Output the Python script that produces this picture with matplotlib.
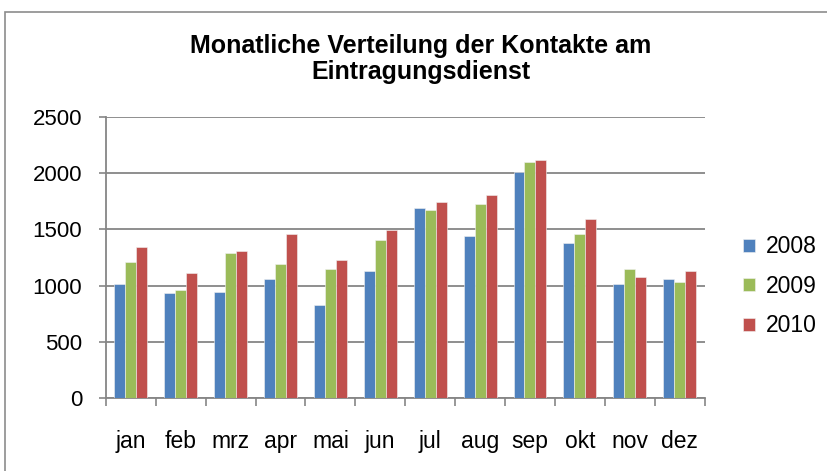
import numpy as np
import matplotlib.pyplot as plt
from matplotlib.patches import Rectangle

plt.rcParams['font.family'] = ['Liberation Sans', 'DejaVu Sans']

# Monate und Werte je Jahr
months = ['jan', 'feb', 'mrz', 'apr', 'mai', 'jun', 'jul', 'aug', 'sep', 'okt', 'nov', 'dez']
v2008 = [1015, 930, 945, 1060, 830, 1127, 1690, 1442, 2010, 1376, 1014, 1061]
v2009 = [1210, 960, 1293, 1192, 1144, 1409, 1677, 1724, 2105, 1460, 1144, 1029]
v2010 = [1344, 1109, 1308, 1460, 1225, 1492, 1742, 1807, 2122, 1593, 1079, 1127]
years = ['2008', '2009', '2010']
colors = ['#4F81BD', '#9BBB59', '#C0504D']

fig = plt.figure(figsize=(8.27, 4.71), dpi=100)
ax = fig.add_axes([0.128, 0.1556, 0.724, 0.5954])

# Rahmen um das Diagramm
fig.patches.append(Rectangle((5 / 827, -0.1), 1.0, (471 - 12) / 471 + 0.1,
                             transform=fig.transFigure, fill=False,
                             edgecolor='#8c8c8c', linewidth=1.2))

x = np.arange(len(months))
w = 0.22
for i, (vals, lab, c) in enumerate(zip([v2008, v2009, v2010], years, colors)):
    ax.bar(x + (i - 1) * w, vals, width=w, color=c, label=lab,
           edgecolor='#f2f2f2', linewidth=0.4, zorder=3)

ax.set_xlim(-0.5, 11.5)
ax.set_ylim(0, 2500)
ax.set_yticks(range(0, 2501, 500))
ax.set_xticks(x)
ax.set_xticklabels(months)
ax.set_xticks(np.arange(-0.5, 12, 1), minor=True)
ax.tick_params(axis='x', which='major', length=0, pad=23, labelsize=16.5)
ax.tick_params(axis='x', which='minor', length=6, width=1.2, color='#868686')
ax.tick_params(axis='y', length=5, width=1.2, color='#868686', labelsize=16, pad=12)
ax.grid(axis='y', color='#868686', linewidth=1.3, zorder=0)
for s in ['top', 'right']:
    ax.spines[s].set_visible(False)
for s in ['left', 'bottom']:
    ax.spines[s].set_color('#868686')
    ax.spines[s].set_linewidth(1.3)

fig.text(421 / 827, 1 - 59 / 471, 'Monatliche Verteilung der Kontakte am\nEintragungsdienst',
         ha='center', va='center', fontsize=18, fontweight='bold', linespacing=1.08)

ax.legend(loc='center left', bbox_to_anchor=(1.03, 0.397), frameon=False,
          fontsize=16.5, handlelength=0.5, handleheight=0.5, handletextpad=0.5,
          labelspacing=0.72)

fig.savefig('out.png', dpi=100)
